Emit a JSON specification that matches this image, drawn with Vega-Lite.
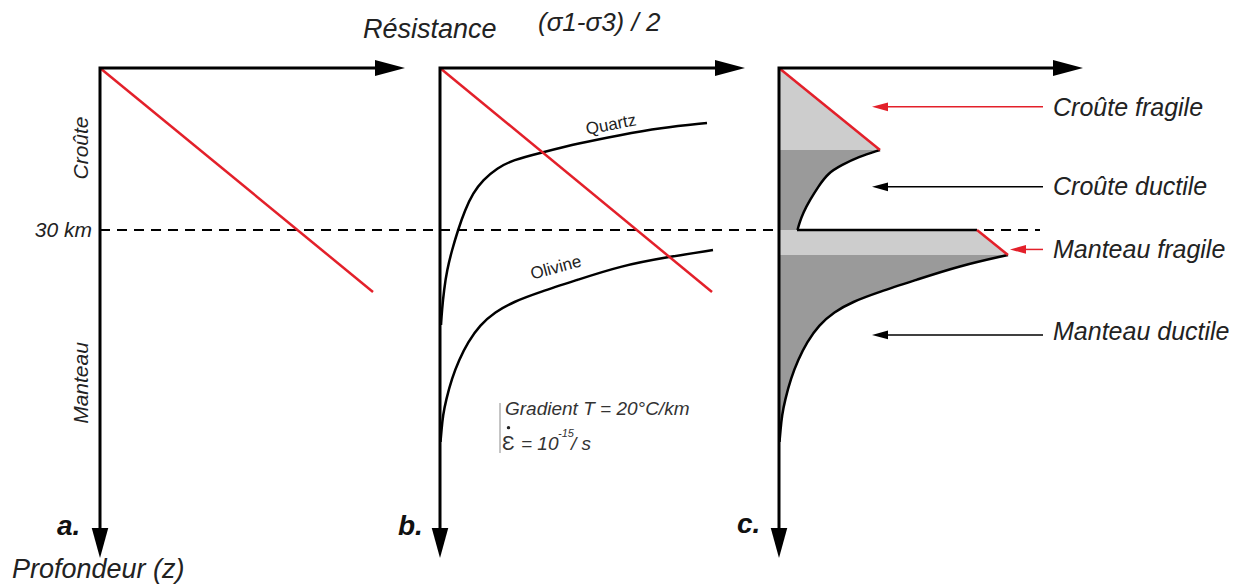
{
  "$schema": "https://vega.github.io/schema/vega-lite/v6.json",
  "width": 1242,
  "height": 587,
  "autosize": {"type": "fit", "contains": "padding"},
  "padding": 0,
  "background": "white",
  "config": {"view": {"stroke": null}},
  "datasets": {
    "moho": [
      {"x": 100, "depth": 30},
      {"x": 1040, "depth": 30}
    ],
    "zones": [
      {"zone": "crust-fragile", "kind": "fragile", "x": 779, "depth": 0},
      {"zone": "crust-fragile", "kind": "fragile", "x": 880, "depth": 15.19},
      {"zone": "crust-ductile", "kind": "ductile", "x": 880, "depth": 15.19},
      {"zone": "crust-ductile", "kind": "ductile", "x": 858, "depth": 16.48},
      {"zone": "crust-ductile", "kind": "ductile", "x": 842, "depth": 17.96},
      {"zone": "crust-ductile", "kind": "ductile", "x": 828, "depth": 19.44},
      {"zone": "crust-ductile", "kind": "ductile", "x": 818, "depth": 22.04},
      {"zone": "crust-ductile", "kind": "ductile", "x": 810, "depth": 24.44},
      {"zone": "crust-ductile", "kind": "ductile", "x": 803, "depth": 26.85},
      {"zone": "crust-ductile", "kind": "ductile", "x": 799.5, "depth": 28.7},
      {"zone": "crust-ductile", "kind": "ductile", "x": 797.5, "depth": 30},
      {"zone": "mantle-fragile", "kind": "fragile", "x": 977, "depth": 30},
      {"zone": "mantle-fragile", "kind": "fragile", "x": 1008, "depth": 34.63},
      {"zone": "mantle-ductile", "kind": "ductile", "x": 1008, "depth": 34.63},
      {"zone": "mantle-ductile", "kind": "ductile", "x": 959, "depth": 36.67},
      {"zone": "mantle-ductile", "kind": "ductile", "x": 916, "depth": 39.26},
      {"zone": "mantle-ductile", "kind": "ductile", "x": 879, "depth": 41.48},
      {"zone": "mantle-ductile", "kind": "ductile", "x": 852, "depth": 43.33},
      {"zone": "mantle-ductile", "kind": "ductile", "x": 834, "depth": 45.19},
      {"zone": "mantle-ductile", "kind": "ductile", "x": 819, "depth": 47.59},
      {"zone": "mantle-ductile", "kind": "ductile", "x": 807, "depth": 50.74},
      {"zone": "mantle-ductile", "kind": "ductile", "x": 798, "depth": 54.07},
      {"zone": "mantle-ductile", "kind": "ductile", "x": 791, "depth": 57.41},
      {"zone": "mantle-ductile", "kind": "ductile", "x": 785, "depth": 61.48},
      {"zone": "mantle-ductile", "kind": "ductile", "x": 782, "depth": 64.26},
      {"zone": "mantle-ductile", "kind": "ductile", "x": 780.5, "depth": 67.04},
      {"zone": "mantle-ductile", "kind": "ductile", "x": 779.5, "depth": 69.26}
    ],
    "curves": [
      {"curve": "quartz", "ord": 1, "x": 707, "depth": 10.19},
      {"curve": "quartz", "ord": 2, "x": 660, "depth": 11.11},
      {"curve": "quartz", "ord": 3, "x": 620, "depth": 12.41},
      {"curve": "quartz", "ord": 4, "x": 580, "depth": 13.89},
      {"curve": "quartz", "ord": 5, "x": 540, "depth": 15.74},
      {"curve": "quartz", "ord": 6, "x": 513, "depth": 17.04},
      {"curve": "quartz", "ord": 7, "x": 497, "depth": 18.52},
      {"curve": "quartz", "ord": 8, "x": 483, "depth": 20.74},
      {"curve": "quartz", "ord": 9, "x": 473, "depth": 23.15},
      {"curve": "quartz", "ord": 10, "x": 465, "depth": 26.3},
      {"curve": "quartz", "ord": 11, "x": 458, "depth": 30},
      {"curve": "quartz", "ord": 12, "x": 452, "depth": 33.7},
      {"curve": "quartz", "ord": 13, "x": 447, "depth": 37.41},
      {"curve": "quartz", "ord": 14, "x": 444, "depth": 41.11},
      {"curve": "quartz", "ord": 15, "x": 442, "depth": 44.81},
      {"curve": "quartz", "ord": 16, "x": 441, "depth": 47.59},
      {"curve": "olivine", "ord": 1, "x": 713, "depth": 33.7},
      {"curve": "olivine", "ord": 2, "x": 668, "depth": 35},
      {"curve": "olivine", "ord": 3, "x": 620, "depth": 36.67},
      {"curve": "olivine", "ord": 4, "x": 577, "depth": 39.26},
      {"curve": "olivine", "ord": 5, "x": 540, "depth": 41.48},
      {"curve": "olivine", "ord": 6, "x": 513, "depth": 43.33},
      {"curve": "olivine", "ord": 7, "x": 495, "depth": 45.19},
      {"curve": "olivine", "ord": 8, "x": 480, "depth": 47.59},
      {"curve": "olivine", "ord": 9, "x": 468, "depth": 50.74},
      {"curve": "olivine", "ord": 10, "x": 459, "depth": 54.07},
      {"curve": "olivine", "ord": 11, "x": 452, "depth": 57.41},
      {"curve": "olivine", "ord": 12, "x": 446, "depth": 61.48},
      {"curve": "olivine", "ord": 13, "x": 443, "depth": 64.26},
      {"curve": "olivine", "ord": 14, "x": 441.5, "depth": 67.04},
      {"curve": "olivine", "ord": 15, "x": 440.5, "depth": 69.26},
      {"curve": "crust-c", "ord": 1, "x": 880, "depth": 15.19},
      {"curve": "crust-c", "ord": 2, "x": 858, "depth": 16.48},
      {"curve": "crust-c", "ord": 3, "x": 842, "depth": 17.96},
      {"curve": "crust-c", "ord": 4, "x": 828, "depth": 19.44},
      {"curve": "crust-c", "ord": 5, "x": 818, "depth": 22.04},
      {"curve": "crust-c", "ord": 6, "x": 810, "depth": 24.44},
      {"curve": "crust-c", "ord": 7, "x": 803, "depth": 26.85},
      {"curve": "crust-c", "ord": 8, "x": 799.5, "depth": 28.7},
      {"curve": "crust-c", "ord": 9, "x": 797.5, "depth": 30},
      {"curve": "mantle-c", "ord": 1, "x": 1008, "depth": 34.63},
      {"curve": "mantle-c", "ord": 2, "x": 959, "depth": 36.67},
      {"curve": "mantle-c", "ord": 3, "x": 916, "depth": 39.26},
      {"curve": "mantle-c", "ord": 4, "x": 879, "depth": 41.48},
      {"curve": "mantle-c", "ord": 5, "x": 852, "depth": 43.33},
      {"curve": "mantle-c", "ord": 6, "x": 834, "depth": 45.19},
      {"curve": "mantle-c", "ord": 7, "x": 819, "depth": 47.59},
      {"curve": "mantle-c", "ord": 8, "x": 807, "depth": 50.74},
      {"curve": "mantle-c", "ord": 9, "x": 798, "depth": 54.07},
      {"curve": "mantle-c", "ord": 10, "x": 791, "depth": 57.41},
      {"curve": "mantle-c", "ord": 11, "x": 785, "depth": 61.48},
      {"curve": "mantle-c", "ord": 12, "x": 782, "depth": 64.26},
      {"curve": "mantle-c", "ord": 13, "x": 780.5, "depth": 67.04},
      {"curve": "mantle-c", "ord": 14, "x": 779.5, "depth": 69.26}
    ],
    "mohoc": [
      {"x": 797, "depth": 30},
      {"x": 977, "depth": 30}
    ],
    "fragile": [
      {"seg": "a", "x": 100, "depth": 0},
      {"seg": "a", "x": 373, "depth": 41.48},
      {"seg": "b", "x": 440, "depth": 0},
      {"seg": "b", "x": 712, "depth": 41.48},
      {"seg": "c1", "x": 779, "depth": 0},
      {"seg": "c1", "x": 880, "depth": 15.19},
      {"seg": "c2", "x": 977, "depth": 30},
      {"seg": "c2", "x": 1008, "depth": 34.63}
    ],
    "axes": [
      {"panel": "a", "ord": 1, "x": 385, "depth": 0},
      {"panel": "a", "ord": 2, "x": 100, "depth": 0},
      {"panel": "a", "ord": 3, "x": 100, "depth": 87},
      {"panel": "b", "ord": 1, "x": 725, "depth": 0},
      {"panel": "b", "ord": 2, "x": 440, "depth": 0},
      {"panel": "b", "ord": 3, "x": 440, "depth": 87},
      {"panel": "c", "ord": 1, "x": 1063, "depth": 0},
      {"panel": "c", "ord": 2, "x": 779, "depth": 0},
      {"panel": "c", "ord": 3, "x": 779, "depth": 87}
    ],
    "heads": [
      {"dir": "right", "x": 390, "depth": 0},
      {"dir": "right", "x": 730, "depth": 0},
      {"dir": "right", "x": 1068, "depth": 0},
      {"dir": "down", "x": 100, "depth": 87.96},
      {"dir": "down", "x": 440, "depth": 87.96},
      {"dir": "down", "x": 779, "depth": 87.96}
    ],
    "pointers": [
      {"id": "cf", "kind": "fragile", "x": 886, "depth": 7.2},
      {"id": "cf", "kind": "fragile", "x": 1043, "depth": 7.2},
      {"id": "cd", "kind": "ductile", "x": 886, "depth": 22},
      {"id": "cd", "kind": "ductile", "x": 1043, "depth": 22},
      {"id": "mf", "kind": "fragile", "x": 1022, "depth": 33.6},
      {"id": "mf", "kind": "fragile", "x": 1043, "depth": 33.6},
      {"id": "md", "kind": "ductile", "x": 886, "depth": 49.44},
      {"id": "md", "kind": "ductile", "x": 1043, "depth": 49.44}
    ],
    "pointerHeads": [
      {"kind": "fragile", "x": 880, "depth": 7.2},
      {"kind": "ductile", "x": 880, "depth": 22},
      {"kind": "fragile", "x": 1018, "depth": 33.6},
      {"kind": "ductile", "x": 880, "depth": 49.44}
    ],
    "bar": [
      {"x": 500, "depth": 62.04},
      {"x": 500, "depth": 71.3}
    ],
    "dot": [
      {"x": 508.5, "depth": 66.6}
    ],
    "labels": [
      {"group": "title", "text": "Résistance", "x": 363, "depth": -5.56},
      {"group": "title", "text": "Profondeur (z)", "x": 12, "depth": 94.44},
      {"group": "sigma", "text": "(σ1-σ3) / 2", "x": 538, "depth": -6.85},
      {"group": "km", "text": "30 km", "x": 92, "depth": 31.3},
      {"group": "layer", "text": "Croûte", "x": 82, "depth": 14.81},
      {"group": "layer", "text": "Manteau", "x": 82, "depth": 58.33},
      {"group": "panel", "text": "a.", "x": 57, "depth": 86.48},
      {"group": "panel", "text": "b.", "x": 398, "depth": 86.48},
      {"group": "panel", "text": "c.", "x": 737, "depth": 86.11},
      {"group": "quartz", "text": "Quartz", "x": 611, "depth": 10.56},
      {"group": "olivine", "text": "Olivine", "x": 556, "depth": 37.04},
      {"group": "note", "text": "Gradient T = 20°C/km", "x": 505, "depth": 64.26},
      {"group": "epsilon", "text": "Ɛ", "x": 502, "depth": 70.74},
      {"group": "note", "text": "= 10", "x": 521, "depth": 70.74},
      {"group": "exponent", "text": "-15", "x": 558, "depth": 68.4},
      {"group": "note", "text": "/ s", "x": 571, "depth": 70.74},
      {"group": "zone", "text": "Croûte fragile", "x": 1053, "depth": 8.89},
      {"group": "zone", "text": "Croûte ductile", "x": 1053, "depth": 23.52},
      {"group": "zone", "text": "Manteau fragile", "x": 1053, "depth": 35.19},
      {"group": "zone", "text": "Manteau ductile", "x": 1053, "depth": 50.37}
    ]
  },
  "encoding": {
    "x": {"field": "x", "type": "quantitative", "scale": {"domain": [0, 1242], "nice": false, "zero": false}, "axis": null},
    "y": {"field": "depth", "type": "quantitative", "scale": {"domain": [-12.59, 96.11], "nice": false, "zero": false, "reverse": true}, "axis": null}
  },
  "layer": [
    {
      "data": {"name": "moho"},
      "mark": {"type": "line", "color": "black", "strokeWidth": 2, "strokeDash": [10, 7]},
      "encoding": {}
    },
    {
      "data": {"name": "zones"},
      "transform": [{"filter": "datum.kind === 'fragile'"}],
      "mark": {"type": "area", "orient": "horizontal", "color": "#cdcdcd", "opacity": 1},
      "encoding": {"x2": {"datum": 779}, "detail": {"field": "zone"}}
    },
    {
      "data": {"name": "zones"},
      "transform": [{"filter": "datum.kind === 'ductile'"}],
      "mark": {"type": "area", "orient": "horizontal", "color": "#9a9a9a", "opacity": 1, "interpolate": "basis"},
      "encoding": {"x2": {"datum": 779}, "detail": {"field": "zone"}}
    },
    {
      "data": {"name": "curves"},
      "mark": {"type": "line", "color": "black", "strokeWidth": 2.5, "interpolate": "basis"},
      "encoding": {"detail": {"field": "curve"}, "order": {"field": "ord"}}
    },
    {
      "data": {"name": "mohoc"},
      "mark": {"type": "line", "color": "black", "strokeWidth": 2.5},
      "encoding": {}
    },
    {
      "data": {"name": "fragile"},
      "mark": {"type": "line", "color": "#e3202a", "strokeWidth": 2.5},
      "encoding": {"detail": {"field": "seg"}}
    },
    {
      "data": {"name": "axes"},
      "mark": {"type": "line", "color": "black", "strokeWidth": 3, "strokeJoin": "miter", "strokeCap": "butt"},
      "encoding": {"detail": {"field": "panel"}, "order": {"field": "ord"}}
    },
    {
      "data": {"name": "heads"},
      "transform": [{"filter": "datum.dir === 'right'"}],
      "mark": {"type": "point", "filled": true, "color": "black", "opacity": 1, "strokeWidth": 0, "size": 900, "shape": "M-1,-0.53L1,0L-1,0.53Z"},
      "encoding": {}
    },
    {
      "data": {"name": "heads"},
      "transform": [{"filter": "datum.dir === 'down'"}],
      "mark": {"type": "point", "filled": true, "color": "black", "opacity": 1, "strokeWidth": 0, "size": 900, "shape": "M-0.55,-1L0.55,-1L0,1Z"},
      "encoding": {}
    },
    {
      "data": {"name": "pointers"},
      "mark": {"type": "line", "strokeWidth": 1.5},
      "encoding": {
        "detail": {"field": "id"},
        "color": {"field": "kind", "type": "nominal", "scale": {"domain": ["fragile", "ductile"], "range": ["#e3202a", "black"]}, "legend": null}
      }
    },
    {
      "data": {"name": "pointerHeads"},
      "mark": {"type": "point", "filled": true, "opacity": 1, "strokeWidth": 0, "size": 256, "shape": "M1,-0.55L-1,0L1,0.55Z"},
      "encoding": {
        "color": {"field": "kind", "type": "nominal", "scale": {"domain": ["fragile", "ductile"], "range": ["#e3202a", "black"]}, "legend": null}
      }
    },
    {
      "data": {"name": "bar"},
      "mark": {"type": "line", "color": "#8a8a8a", "strokeWidth": 1},
      "encoding": {}
    },
    {
      "data": {"name": "dot"},
      "mark": {"type": "point", "shape": "circle", "filled": true, "color": "#222", "opacity": 1, "strokeWidth": 0, "size": 12},
      "encoding": {}
    },
    {
      "data": {"name": "labels"},
      "transform": [{"filter": "datum.group === 'title'"}],
      "mark": {"type": "text", "font": "Liberation Sans", "fontStyle": "italic", "fontSize": 27, "align": "left", "baseline": "alphabetic", "color": "#222"},
      "encoding": {"text": {"field": "text"}}
    },
    {
      "data": {"name": "labels"},
      "transform": [{"filter": "datum.group === 'sigma'"}],
      "mark": {"type": "text", "font": "Liberation Sans", "fontStyle": "italic", "fontSize": 26, "align": "left", "baseline": "alphabetic", "color": "#222"},
      "encoding": {"text": {"field": "text"}}
    },
    {
      "data": {"name": "labels"},
      "transform": [{"filter": "datum.group === 'km'"}],
      "mark": {"type": "text", "font": "Liberation Sans", "fontStyle": "italic", "fontSize": 21, "align": "right", "baseline": "alphabetic", "color": "#222"},
      "encoding": {"text": {"field": "text"}}
    },
    {
      "data": {"name": "labels"},
      "transform": [{"filter": "datum.group === 'layer'"}],
      "mark": {"type": "text", "font": "Liberation Sans", "fontStyle": "italic", "fontSize": 21, "align": "center", "baseline": "middle", "angle": 270, "color": "#222"},
      "encoding": {"text": {"field": "text"}}
    },
    {
      "data": {"name": "labels"},
      "transform": [{"filter": "datum.group === 'panel'"}],
      "mark": {"type": "text", "font": "Liberation Sans", "fontStyle": "italic", "fontWeight": "bold", "fontSize": 28, "align": "left", "baseline": "alphabetic", "color": "#111"},
      "encoding": {"text": {"field": "text"}}
    },
    {
      "data": {"name": "labels"},
      "transform": [{"filter": "datum.group === 'quartz'"}],
      "mark": {"type": "text", "font": "Liberation Sans", "fontSize": 17, "align": "center", "baseline": "middle", "angle": 349, "color": "#222"},
      "encoding": {"text": {"field": "text"}}
    },
    {
      "data": {"name": "labels"},
      "transform": [{"filter": "datum.group === 'olivine'"}],
      "mark": {"type": "text", "font": "Liberation Sans", "fontSize": 17, "align": "center", "baseline": "middle", "angle": 345, "color": "#222"},
      "encoding": {"text": {"field": "text"}}
    },
    {
      "data": {"name": "labels"},
      "transform": [{"filter": "datum.group === 'note'"}],
      "mark": {"type": "text", "font": "Liberation Sans", "fontStyle": "italic", "fontSize": 19, "align": "left", "baseline": "alphabetic", "color": "#333"},
      "encoding": {"text": {"field": "text"}}
    },
    {
      "data": {"name": "labels"},
      "transform": [{"filter": "datum.group === 'epsilon'"}],
      "mark": {"type": "text", "font": "Liberation Sans", "fontSize": 21, "align": "left", "baseline": "alphabetic", "color": "#333"},
      "encoding": {"text": {"field": "text"}}
    },
    {
      "data": {"name": "labels"},
      "transform": [{"filter": "datum.group === 'exponent'"}],
      "mark": {"type": "text", "font": "Liberation Sans", "fontStyle": "italic", "fontSize": 11, "align": "left", "baseline": "alphabetic", "color": "#333"},
      "encoding": {"text": {"field": "text"}}
    },
    {
      "data": {"name": "labels"},
      "transform": [{"filter": "datum.group === 'zone'"}],
      "mark": {"type": "text", "font": "Liberation Sans", "fontStyle": "italic", "fontSize": 25, "align": "left", "baseline": "alphabetic", "color": "#222"},
      "encoding": {"text": {"field": "text"}}
    }
  ]
}
